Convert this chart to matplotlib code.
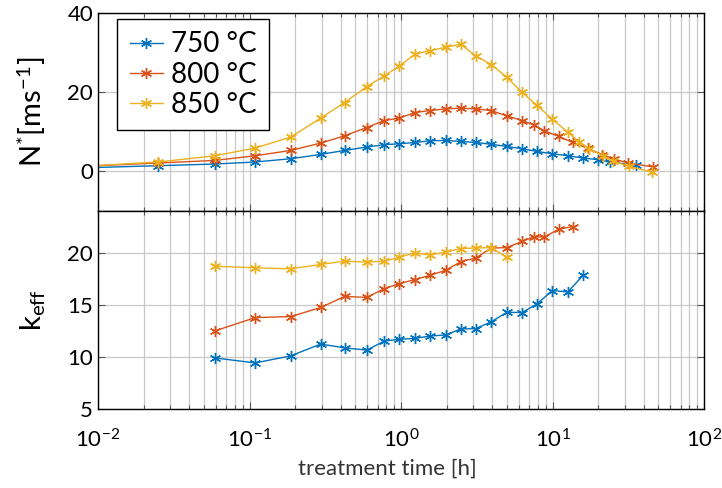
import matplotlib
matplotlib.use("Agg")
import matplotlib.pyplot as plt
from matplotlib.ticker import LogLocator, FixedLocator

FONT = "Lato"
plt.rcParams['font.family'] = [FONT, 'DejaVu Sans']
plt.rcParams['mathtext.fontset'] = 'custom'
plt.rcParams['mathtext.rm'] = FONT
plt.rcParams['mathtext.it'] = FONT + ':italic'
plt.rcParams['mathtext.bf'] = FONT + ':bold'
plt.rcParams['mathtext.sf'] = FONT

# ---------------- data (upper panel: N*) ----------------
t_n750 = [0.005, 0.025, 0.059, 0.109, 0.187, 0.295, 0.424, 0.594, 0.776, 0.974, 1.237, 1.554,
          1.97, 2.474, 3.112, 3.953, 4.986, 6.30, 7.88, 9.97, 12.64, 15.89, 20.05, 24.1, 35.6]
n750 = [0.67, 1.44, 1.86, 2.37, 3.2, 4.3, 5.29, 6.15, 6.73, 6.98, 7.3, 7.73,
        7.81, 7.56, 7.3, 6.85, 6.3, 5.72, 5.04, 4.46, 3.95, 3.38, 2.95, 2.27, 1.69]

t_n800 = [0.005, 0.025, 0.059, 0.109, 0.187, 0.295, 0.424, 0.594, 0.776, 0.974, 1.237, 1.554,
          1.97, 2.474, 3.112, 3.953, 4.986, 6.30, 7.52, 8.83, 11.01, 13.59, 17.23, 21.3, 25.5, 31.7, 46.3]
n800 = [0.94, 2.12, 2.77, 3.95, 5.29, 7.15, 8.99, 11.08, 12.85, 13.45, 14.86, 15.37,
        15.79, 15.97, 15.79, 15.34, 14.03, 12.85, 11.76, 10.25, 8.82, 7.3, 5.79, 4.21, 3.12, 2.12, 1.11]

t_n850 = [0.005, 0.025, 0.059, 0.109, 0.187, 0.295, 0.424, 0.594, 0.776, 0.974, 1.237, 1.554,
          1.97, 2.474, 3.112, 3.953, 4.986, 6.30, 7.88, 9.97, 12.64, 15.07, 17.5, 21.5, 24.9, 32.2, 45.2]
n850 = [0.86, 2.37, 3.95, 5.89, 8.67, 13.45, 17.38, 21.41, 24.11, 26.63, 29.6, 30.48,
        31.34, 32.09, 29.2, 26.95, 23.78, 19.95, 16.68, 13.2, 9.87, 7.43, 5.67, 3.95, 2.65, 1.26, -0.2]

# ---------------- data (lower panel: k_eff) ----------------
t_k750 = [0.059, 0.109, 0.187, 0.295, 0.424, 0.594, 0.776, 0.974, 1.237, 1.554, 1.97, 2.474,
          3.112, 3.953, 4.986, 6.30, 7.88, 9.97, 12.64, 15.89]
k750 = [9.90, 9.42, 10.10, 11.23, 10.87, 10.65, 11.52, 11.69, 11.78, 12.0, 12.10, 12.68,
        12.71, 13.38, 14.27, 14.26, 15.07, 16.37, 16.23, 17.82]

t_k800 = [0.059, 0.109, 0.187, 0.295, 0.424, 0.594, 0.776, 0.974, 1.237, 1.554, 1.97, 2.474,
          3.112, 3.953, 4.986, 6.30, 7.52, 8.83, 11.01, 13.59]
k800 = [12.49, 13.77, 13.87, 14.74, 15.80, 15.71, 16.55, 17.03, 17.42, 17.83, 18.31, 19.13,
        19.49, 20.45, 20.48, 21.09, 21.51, 21.51, 22.25, 22.51]

t_k850 = [0.059, 0.109, 0.187, 0.295, 0.424, 0.594, 0.776, 0.974, 1.237, 1.554, 1.97, 2.474,
          3.112, 3.953, 4.986]
k850 = [18.70, 18.55, 18.45, 18.87, 19.19, 19.09, 19.19, 19.55, 20.0, 19.76, 20.06, 20.39,
        20.46, 20.48, 19.55]

labels = ["750 °C", "800 °C", "850 °C"]
colors = ["#0072BD", "#D95319", "#EDB120"]

x_major = [1e-2, 1e-1, 1e0, 1e1, 1e2]
n_ticks = [0, 20, 40]
k_ticks = [5, 10, 15, 20]

fig = plt.figure(figsize=(7.22, 4.88), dpi=100)
L, R = 98 / 722, 704 / 722
y_top, y_mid, y_bot = 1 - 13 / 488, 1 - 211 / 488, 1 - 409 / 488
ax1 = fig.add_axes([L, y_mid, R - L, y_top - y_mid])
ax2 = fig.add_axes([L, y_bot, R - L, y_mid - y_bot], sharex=ax1)

mk = dict(marker=(6, 2, 0), markersize=8, markeredgewidth=1.0, linewidth=1.0)
for t, v, c, lab in zip([t_n750, t_n800, t_n850], [n750, n800, n850], colors, labels):
    ax1.plot(t, v, color=c, label=lab, **mk)
for t, v, c in zip([t_k750, t_k800, t_k850], [k750, k800, k850], colors):
    ax2.plot(t, v, color=c, **mk)

grid_c = "#c8c8c8"
for ax in (ax1, ax2):
    ax.set_xscale('log')
    ax.set_xlim(1e-2, 1e2)
    ax.xaxis.set_major_locator(FixedLocator(x_major))
    ax.xaxis.set_minor_locator(LogLocator(base=10, subs=range(2, 10), numticks=20))
    ax.grid(True, which='major', axis='both', color=grid_c, linewidth=0.9)
    ax.grid(True, which='minor', axis='x', color=grid_c, linewidth=0.9)
    ax.set_axisbelow(True)
    ax.tick_params(which='major', direction='in', length=5, width=0.8, top=True, right=True,
                   labelsize=16, color='#555555')
    ax.tick_params(which='minor', direction='in', length=3, width=0.8, top=True, right=True,
                   color='#555555')
    for s in ax.spines.values():
        s.set_linewidth(1.0)

ax1.set_ylim(-10, 40)
ax1.set_yticks(n_ticks)
ax1.tick_params(labelbottom=False)
ax2.set_ylim(5, 24)
ax2.set_yticks(k_ticks)
ax2.tick_params(axis='x', which='major', pad=14)

ax1.set_ylabel(r"N$^{*}$[ms$^{-1}$]", fontsize=21)
ax2.set_ylabel(r"k$_{\mathrm{eff}}$", fontsize=21)
ax1.yaxis.set_label_coords(-0.083, 0.5)
ax2.yaxis.set_label_coords(-0.083, 0.5)
ax2.set_xlabel("treatment time [h]", fontsize=16, color='#333333', labelpad=4)
ax2.xaxis.set_label_coords(0.477, -0.25)

leg = ax1.legend(loc='upper left', bbox_to_anchor=(19 / 606, 1 - 6 / 198), borderaxespad=0,
                 fontsize=20, frameon=True, fancybox=False, edgecolor='black', framealpha=1,
                 handlelength=1.2, borderpad=0.45, labelspacing=0.15, handletextpad=0.3)
leg.get_frame().set_linewidth(1.0)

fig.savefig("out.png", dpi=100)
